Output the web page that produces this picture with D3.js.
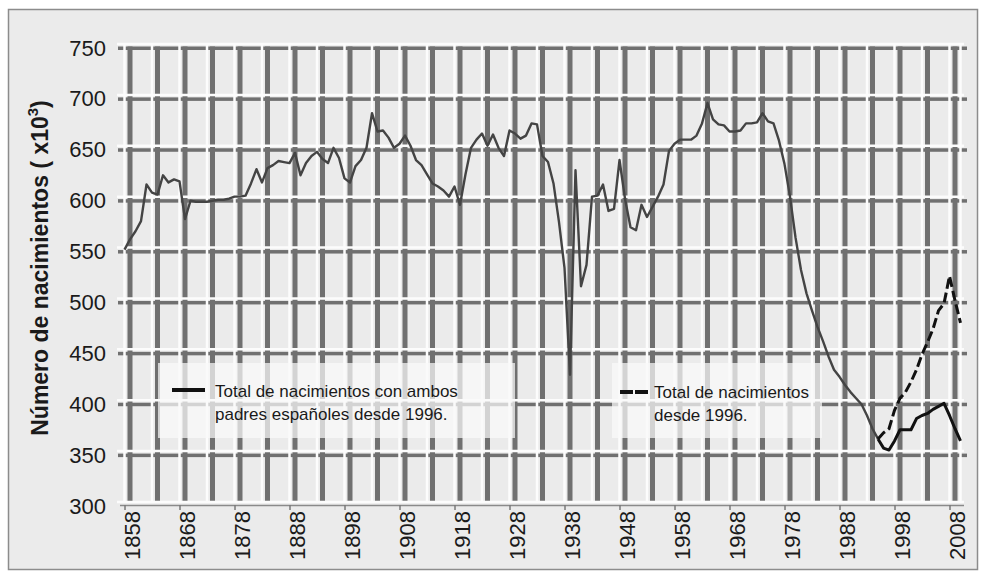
<!DOCTYPE html>
<html>
<head>
<meta charset="utf-8">
<script src="https://cdn.jsdelivr.net/npm/d3@7"></script>
<style>
body { margin: 0; background: #fff; }
text { font-family: "Liberation Sans", Arial, sans-serif; fill: #1a1a1a; }
</style>
</head>
<body>
<div id="chart"></div>
<script>
// births per year (x1000)
var firstYear = 1858;
var totalBirths = [
  548, 558, 566, 576, 612, 604, 602, 621, 614, 617,   // 1858-1867
  615, 578, 596, 595, 595, 595, 596, 597, 597, 598,   // 1868-1877
  600, 600, 601, 613, 627, 614, 628, 631, 635, 634,   // 1878-1887
  633, 643, 621, 633, 640, 644, 637, 633, 648, 638,   // 1888-1897
  618, 614, 630, 636, 648, 682, 664, 665, 658, 648,   // 1898-1907
  652, 660, 650, 636, 631, 622, 613, 610, 606, 600,   // 1908-1917
  610, 592, 622, 648, 656, 662, 650, 661, 648, 640,   // 1918-1927
  665, 662, 657, 660, 672, 671, 640, 634, 613, 575,   // 1928-1937
  530, 425, 626, 512, 533, 600, 601, 612, 586, 588,   // 1938-1947
  636, 598, 570, 567, 592, 580, 590, 600, 612, 645,   // 1948-1957
  652, 656, 656, 656, 660, 672, 692, 676, 671, 670,   // 1958-1967
  664, 664, 665, 672, 672, 673, 682, 674, 672, 655,   // 1968-1977
  632, 600, 560, 528, 505, 488, 472, 458, 443, 430,   // 1978-1987
  423, 415, 408, 402, 396, 385, 372, 362              // 1988-1995
];

var recentYear = 1995;
var bothSpanish = [362, 353, 351, 360, 371, 371, 371, 382, 385, 387, 391, 394, 397, 385, 372, 360];
var totalSince1996 = [362, 368, 372, 390, 402, 408, 418, 430, 445, 457, 470, 488, 495, 522, 498, 476];

var yTicks = [300, 350, 400, 450, 500, 550, 600, 650, 700, 750];
var xTicks = [1858, 1868, 1878, 1888, 1898, 1908, 1918, 1928, 1938, 1948, 1958, 1968, 1978, 1988, 1998, 2008];
var gridYears = [1858, 1863, 1868, 1873, 1878, 1883, 1888, 1893, 1898, 1903, 1908, 1913, 1918, 1923, 1928,
  1933, 1938, 1943, 1948, 1953, 1958, 1963, 1968, 1973, 1978, 1983, 1988, 1993, 1998, 2003, 2008];

var svg = d3.select("#chart").append("svg")
  .attr("width", 983)
  .attr("height", 578);

var x = d3.scaleLinear().domain([1858, 2010]).range([124.5, 960.5]);
var y = d3.scaleLinear().domain([300, 750]).range([502, 44]);

// frame
svg.append("rect")
  .attr("x", 8.5).attr("y", 9.5)
  .attr("width", 969).attr("height", 560)
  .attr("fill", "#ebebeb")
  .attr("stroke", "#8c8c8c")
  .attr("stroke-width", 1.5);

var grid = svg.append("g");
var shade = "#707070";

// dark shadow under each horizontal grid line
yTicks.slice(1).forEach(function(v) {
  grid.append("rect")
    .attr("x", 118).attr("y", y(v) + 2.5)
    .attr("width", 967 - 118).attr("height", 3.5)
    .attr("fill", shade);
});
grid.append("line")
  .attr("x1", 120).attr("x2", 964)
  .attr("y1", y(300) + 3.5).attr("y2", y(300) + 3.5)
  .attr("stroke", "#8a8a8a").attr("stroke-width", 1.5);

// dark shadow right of each vertical grid line
gridYears.forEach(function(yr) {
  grid.append("rect")
    .attr("x", x(yr) + 3).attr("y", y(750) + 2.5)
    .attr("width", 5).attr("height", y(300) - y(750) - 2.5)
    .attr("fill", shade);
});

// white grid lines
yTicks.forEach(function(v) {
  grid.append("line")
    .attr("x1", 117).attr("x2", 964)
    .attr("y1", y(v)).attr("y2", y(v))
    .attr("stroke", "#fcfcfc").attr("stroke-width", 2.5);
});
gridYears.concat([2010]).forEach(function(yr) {
  grid.append("line")
    .attr("x1", x(yr)).attr("x2", x(yr))
    .attr("y1", y(750) - 1).attr("y2", y(300) + 1)
    .attr("stroke", "#fcfcfc").attr("stroke-width", 2.5);
});

// x ticks
xTicks.forEach(function(yr) {
  grid.append("line")
    .attr("x1", x(yr) + 0.5).attr("x2", x(yr) + 0.5)
    .attr("y1", y(300) + 3).attr("y2", y(300) + 8)
    .attr("stroke", "#7a7a7a").attr("stroke-width", 1.5);
});

// legend backgrounds
svg.append("rect")
  .attr("x", 158).attr("y", 363).attr("width", 357).attr("height", 75)
  .attr("fill", "#fafafa").attr("opacity", 0.72);
svg.append("rect")
  .attr("x", 612).attr("y", 363).attr("width", 210).attr("height", 75)
  .attr("fill", "#fafafa").attr("opacity", 0.72);

// series
var line = d3.line()
  .x(function(d) { return x(d.year); })
  .y(function(d) { return y(d.value); });

function toPoints(start, values) {
  return values.map(function(v, i) { return { year: start + i, value: v }; });
}

svg.append("path")
  .datum(toPoints(firstYear, totalBirths))
  .attr("d", line)
  .attr("fill", "none")
  .attr("stroke", "#444")
  .attr("stroke-width", 2.4)
  .attr("stroke-linejoin", "round");

svg.append("path")
  .datum(toPoints(recentYear, bothSpanish))
  .attr("d", line)
  .attr("fill", "none")
  .attr("stroke", "#111")
  .attr("stroke-width", 3)
  .attr("stroke-linejoin", "round");

svg.append("path")
  .datum(toPoints(recentYear, totalSince1996))
  .attr("d", line)
  .attr("fill", "none")
  .attr("stroke", "#111")
  .attr("stroke-width", 3)
  .attr("stroke-dasharray", "10,4");

// legend
svg.append("line")
  .attr("x1", 172).attr("x2", 205).attr("y1", 390).attr("y2", 390)
  .attr("stroke", "#111").attr("stroke-width", 4);
svg.append("text").attr("x", 215).attr("y", 397).attr("font-size", 17)
  .text("Total de nacimientos con ambos");
svg.append("text").attr("x", 215).attr("y", 420).attr("font-size", 17)
  .text("padres españoles desde 1996.");

svg.append("line")
  .attr("x1", 620).attr("x2", 650).attr("y1", 392).attr("y2", 392)
  .attr("stroke", "#111").attr("stroke-width", 4)
  .attr("stroke-dasharray", "13,2");
svg.append("text").attr("x", 654).attr("y", 398).attr("font-size", 17)
  .text("Total de nacimientos");
svg.append("text").attr("x", 654).attr("y", 421).attr("font-size", 17)
  .text("desde 1996.");

// y labels
svg.selectAll(".ylab")
  .data(yTicks)
  .enter().append("text")
  .attr("class", "ylab")
  .attr("x", 106)
  .attr("y", function(d) { return y(d) + 4; })
  .attr("text-anchor", "end")
  .attr("dominant-baseline", "central")
  .attr("font-size", 22)
  .text(function(d) { return d; });

// x labels
svg.selectAll(".xlab")
  .data(xTicks)
  .enter().append("text")
  .attr("class", "xlab")
  .attr("transform", function(d) { return "translate(" + (x(d) + 8) + "," + 511 + ") rotate(-90)"; })
  .attr("text-anchor", "end")
  .attr("dominant-baseline", "central")
  .attr("font-size", 22)
  .text(function(d) { return d; });

// y title
var title = svg.append("text")
  .attr("transform", "translate(40,268) rotate(-90)")
  .attr("text-anchor", "middle")
  .attr("dominant-baseline", "central")
  .attr("font-size", 23)
  .attr("font-weight", "bold");
title.append("tspan").text("Número de nacimientos ( x10");
title.append("tspan").attr("dy", -8).attr("font-size", 15).text("3");
title.append("tspan").attr("dy", 8).text(")");
</script>
</body>
</html>
